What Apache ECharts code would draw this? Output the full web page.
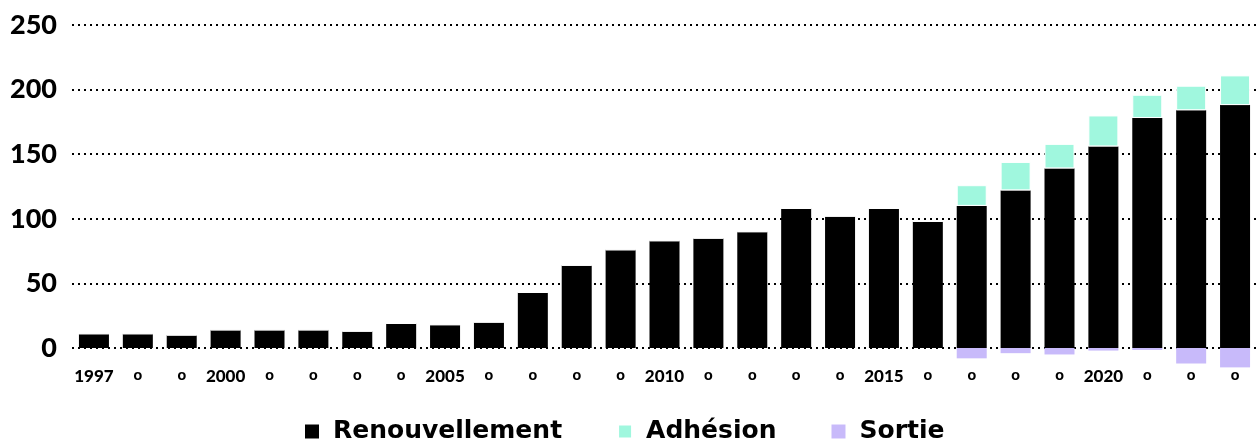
<!DOCTYPE html>
<html>
<head>
<meta charset="utf-8">
<script src="https://cdn.jsdelivr.net/npm/echarts@6/dist/echarts.min.js"></script>
<style>
  html, body { margin: 0; padding: 0; background: #fff; }
  #chart { width: 1257px; height: 439px; }
</style>
</head>
<body>
<div id="chart"></div>
<script>
// annees 1997 -> 2023
const years = ['1997', '1998', '1999', '2000', '2001', '2002', '2003', '2004', '2005', '2006',
  '2007', '2008', '2009', '2010', '2011', '2012', '2013', '2014', '2015', '2016',
  '2017', '2018', '2019', '2020', '2021', '2022', '2023']
const renouvellement = [11, 11, 10, 14, 14, 14, 13, 19, 18, 20,
  43, 64, 76, 83, 85, 90, 108, 102, 108, 98,
  110, 122, 139, 156, 178, 184, 188]
const adhesion = [0, 0, 0, 0, 0, 0, 0, 0, 0, 0,
  0, 0, 0, 0, 0, 0, 0, 0, 0, 0,
  16, 22, 19, 24, 18, 19, 23]
const sortie = [0, 0, 0, 0, 0, 0, 0, 0, 0, 0,
  0, 0, 0, 0, 0, 0, 0, 0, 0, 0,
  -8, -4, -5, -2, -1.5, -12, -15]
const yTicks = { min: 0, max: 250, interval: 50 }

const chart = echarts.init(document.getElementById('chart'))

chart.setOption({
  animation: false,
  textStyle: { fontFamily: 'Lato' },
  grid: {
    left: 72,
    top: 25,
    bottom: 91,
    width: 1193
  },
  legend: {
    data: ['Renouvellement', 'Adhésion', 'Sortie'],
    top: 414,
    left: 300,
    icon: 'rect',
    itemWidth: 14,
    itemHeight: 14,
    itemGap: 55,
    textStyle: {
      fontFamily: 'DejaVu Sans',
      fontWeight: 'bold',
      fontSize: 25,
      color: '#000',
      padding: [0, 0, 0, 9]
    }
  },
  xAxis: {
    type: 'category',
    data: years,
    axisLine: { show: false },
    axisTick: { show: false },
    axisLabel: {
      interval: 0,
      margin: 20,
      color: '#000',
      fontWeight: 900,
      fontSize: 17,
      formatter: function (v) {
        const y = +v
        if (y === 1997 || y % 5 === 0) return v
        return '{dot|o}'
      },
      rich: {
        dot: { fontSize: 15, fontWeight: 900, color: '#000', fontFamily: 'Lato' }
      }
    }
  },
  yAxis: {
    type: 'value',
    min: yTicks.min,
    max: yTicks.max,
    interval: yTicks.interval,
    axisLine: { show: false },
    axisTick: { show: false },
    axisLabel: {
      margin: 15,
      color: '#000',
      fontWeight: 900,
      fontSize: 27
    },
    splitLine: {
      lineStyle: { color: '#000', width: 2, type: [2, 4] }
    }
  },
  series: [
    {
      name: 'Renouvellement',
      type: 'bar',
      stack: 'total',
      barWidth: 30,
      itemStyle: { color: '#000' },
      data: renouvellement
    },
    {
      name: 'Adhésion',
      type: 'bar',
      stack: 'total',
      barWidth: 30,
      itemStyle: { color: '#a0f7de', borderColor: '#fff', borderWidth: 1 },
      data: adhesion
    },
    {
      name: 'Sortie',
      type: 'bar',
      stack: 'total',
      barWidth: 30,
      clip: false,
      itemStyle: { color: '#c8bafa' },
      data: sortie
    }
  ]
})
</script>
</body>
</html>
